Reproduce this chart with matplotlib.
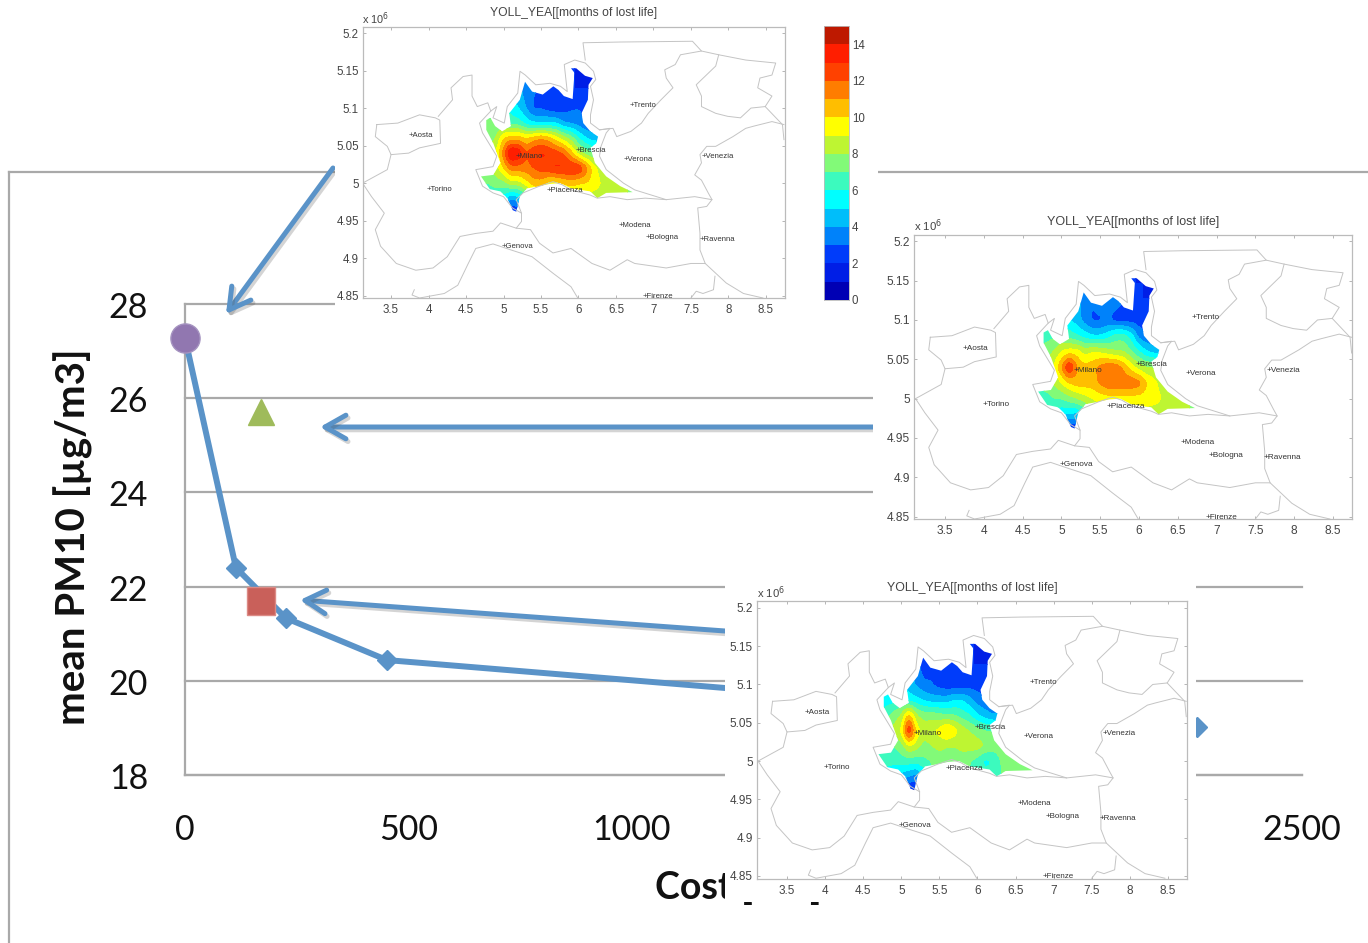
import numpy as np
import matplotlib
matplotlib.use("Agg")
import matplotlib.pyplot as plt
from matplotlib.lines import Line2D
from matplotlib.patches import Polygon, Rectangle
import matplotlib.patheffects as pe

W, H = 1368, 943

# ---------- main chart data ----------
cost = [0, 114, 226, 452, 2265]
pm10 = [27.28, 22.4, 21.33, 20.44, 19.02]
scenario_cost = [0, 170, 170]
scenario_pm10 = [27.28, 25.7, 21.7]
y_ticks = [18, 20, 22, 24, 26, 28]
x_ticks = [0, 500, 1000, 1500, 2000, 2500]

# ---------- map data ----------
grid_x = [4.7, 4.8, 4.9, 5.0, 5.1, 5.2, 5.3, 5.4, 5.5, 5.6, 5.7, 5.8, 5.9, 6.0, 6.1, 6.2, 6.3, 6.4, 6.5, 6.6, 6.7, 6.8]
grid_y = [5.16, 5.14, 5.12, 5.10, 5.08, 5.06, 5.04, 5.02, 5.00, 4.98, 4.96]

yoll_top = [
    [2]*22,
    [5,5,5,5,4,3.5,3,3,3,3,2.5,2.5,2,2,2,2,2,2,2,2,2,2],
    [6,6,6,6,5,4.5,3.5,3,3,2.5,2.5,2.5,2,2,2,2,2,2,2,2,2,2],
    [7,7,7,6.5,5.5,5,4,2.8,2.8,2.5,2.2,2.5,2.8,3,2.5,2.5,2.5,2.5,2.5,2.5,2.5,2.5],
    [7,7,7,7,6.5,6.5,5.5,5,5,5,5,4,3.8,3.5,3,3,3,3,3,3,3,3],
    [7.5,7.5,8,10,10.5,10.5,10,10.5,11,10.5,9.5,8.5,7.5,6,5,4.5,4.5,4.5,4.5,4.5,4.5,4.5],
    [8,8,9,11.5,14.5,14,12,13,13.2,13,12.5,12,10.5,8.5,7.5,7,7,7,7,7,7,7],
    [8,8,8.5,10,11.5,11.5,11.5,12,12.5,12.8,13.2,13.2,13.2,13.2,11.5,9.5,8.5,8.5,8.5,8.5,8.5,8.5],
    [7,7,7.5,7.5,8.5,8.5,9.5,10.5,10.5,9.5,9.5,10,10.5,10,10,9.5,9,8.5,8.3,8,8,8],
    [6,6,6,5.5,4,4.5,6,8,8,8,8,8,8,8.5,8.5,8.5,8.5,8.5,8,8,8,8],
    [4,4,3,2,1.5,2,3,6,6,6,6,6,6,7,7,7,7,7,7,7,7,7],
]
yoll_mid = [
    [2]*22,
    [5,5,5,5,4,3.5,3,3,3,3,3,2.5,2,2,2,2,2,2,2,2,2,2],
    [6,6,6,6,5,4.5,3.5,3,3.5,3.5,3.2,3,2.5,2,2,2,2,2,2,2,2,2],
    [6.5,6.5,6.5,6,5,4.5,3.5,2.8,2.8,3.2,2.5,2.5,2.5,2.5,2.5,2.5,2.5,2.5,2.5,2.5,2.5,2.5],
    [6.5,6.5,6.8,7,6.5,6,5.5,5,5,5.5,6.5,6.5,5.5,3.5,3,3,3,3,3,3,3,3],
    [7.5,7.5,8,9,9.5,9.5,8.5,9,8.8,8.4,8,8,7,6,5,4.5,4.5,4.5,4.5,4.5,4.5,4.5],
    [8,8,9,11,13.5,11,10.3,10.6,11.4,11.8,11.8,10.8,9.5,8.5,8,8,8,8,8,8,8,8],
    [7.5,7.5,8,9,10,10.5,10.5,10.5,11.2,11.8,11.8,11.8,11.8,11.5,10,9.3,8.5,8.5,8.5,8.5,8.5,8.5],
    [6.5,6.5,7,7,7.5,8,8.5,9,9.3,9.5,9.5,9.5,9.5,9.5,9.5,9.3,9,8.5,8.3,8,8,8],
    [6,6,5.5,5,5,4.5,6,8,8,8,8,8,8,8.5,8.5,8.5,8.5,8.5,8,8,8,8],
    [4,4,3,2,1.5,2,3,6,6,6,6,6,6,7,7,7,7,7,7,7,7,7],
]
yoll_low = [
    [2]*22,
    [4,4,4,4,3.5,3,2.5,2.5,2.5,2.5,2.5,2.2,2,2,2,2,2,2,2,2,2,2],
    [5,5,5,5,4.5,3.5,2.5,3,3,3,2.5,2.5,2,2,2,2,2,2,2,2,2,2],
    [5.5,5.5,5.5,5,4.5,3.8,3.2,3,2.5,2.3,2.2,2.2,2.5,2.5,2.5,2.5,2.5,2.5,2.5,2.5,2.5,2.5],
    [5.5,5.5,5.5,6,5.5,5.3,4.8,4.5,4.5,4.5,5,5,4.3,3.5,3,3,3,3,3,3,3,3],
    [6.5,6.5,7.5,8,10.5,8,7.5,7.5,7.3,7,7,6.5,6,5,4.5,4,4,4,4,4,4,4],
    [7.5,7.5,8.3,9,13.5,9.5,8.6,9,9.3,10.5,9.5,8.5,8,7.5,7,7,7,7,7,7,7,7],
    [6.5,6.5,7,7.5,9,8.5,7.5,8,8.3,8,8,8.3,8.5,8.5,8,7.5,7.5,7.5,7.5,7.5,7.5,7.5],
    [6,6.3,6.3,6.5,6.5,6.3,6.8,7,7.5,7.5,7.5,7.5,7,6.5,5.6,6,7,7.5,7.5,7.5,7.5,7.5],
    [5.5,5.5,5,4.5,4,3.5,5,7,7,7,7,7,7,7,6.5,6.5,7,7,7,7,7,7],
    [3,3,2,1.5,1.5,1.5,3,6,6,6,6,6,6,6,6,6,6,6,6,6,6,6],
]

lombardy_area = [(5.90,5.153),(5.97,5.153),(6.087,5.143),(6.19,5.14),(6.134,5.131),(6.125,5.111),(6.04,5.093),
    (6.063,5.08),(6.158,5.069),(6.261,5.062),(6.237,5.053),(6.158,5.047),(6.219,5.027),(6.369,5.009),(6.557,4.996),
    (6.722,4.988),(6.369,4.987),(6.252,4.98),(6.158,4.989),(5.899,4.993),(5.758,5.0),(5.617,4.999),(5.476,4.996),
    (5.311,4.993),(5.217,4.982),(5.17,4.962),(5.123,4.964),(5.052,4.98),(4.958,4.989),(4.817,4.992),(4.70,5.009),
    (4.864,5.011),(4.958,5.027),(4.864,5.053),(4.77,5.071),(4.77,5.084),(4.826,5.087),(4.888,5.076),(4.982,5.069),
    (5.099,5.076),(5.076,5.093),(5.217,5.111),(5.287,5.135),(5.381,5.122),(5.523,5.118),(5.664,5.129),(5.734,5.124),
    (5.805,5.116),(5.922,5.112),(5.946,5.147)]

borders = [
    [(3.31,5.078),(3.29,5.062),(3.45,5.049),(3.50,5.038),(3.735,5.04),(3.88,5.047),(4.16,5.053),(4.15,5.084),(4.09,5.087),(3.88,5.091),(3.59,5.08),(3.31,5.078)],
    [(3.12,5.0),(3.24,4.982),(3.41,4.96),(3.29,4.938),(3.36,4.916),(3.57,4.893),(3.83,4.884),(4.06,4.887),(4.25,4.902),(4.42,4.929),(4.63,4.933),(4.86,4.936),(4.96,4.947),(5.17,4.94),(5.24,4.949),(5.24,4.96),(5.12,4.967),(5.0,4.982),(4.86,4.987),(4.72,4.996),(4.63,5.018),(4.86,5.022),(4.91,5.036),(4.72,5.067),(4.68,5.08),(4.83,5.096),(4.79,5.107),(4.65,5.102),(4.58,5.116),(4.58,5.144),(4.46,5.142),(4.30,5.127),(4.32,5.111),(4.13,5.089)],
    [(3.50,5.038),(3.45,5.018),(3.12,5.0)],
    [(3.81,4.858),(3.78,4.851),(3.88,4.847),(4.21,4.853),(4.39,4.864),(4.53,4.893),(4.63,4.913),(4.86,4.919),(5.10,4.911),(5.38,4.902),(5.66,4.88),(5.90,4.862),(5.99,4.847)],
    [(5.17,4.94),(5.36,4.938),(5.48,4.92),(5.66,4.907),(5.9,4.913),(6.18,4.893),(6.42,4.884),(6.65,4.898),(6.75,4.893),(7.17,4.887),(7.5,4.893),(7.69,4.893),(7.97,4.867),(8.2,4.853),(8.46,4.847)],
    [(7.5,4.847),(7.57,4.856),(7.66,4.853),(7.80,4.858),(7.82,4.876)],
    [(5.24,4.96),(5.17,4.978),(5.26,4.987),(5.48,4.996),(5.66,5.002),(5.78,4.998),(5.9,4.991),(6.16,4.984),(6.25,4.98),(6.42,4.982),(6.65,4.978),(6.89,4.98),(7.17,4.978),(7.55,4.982),(7.78,4.978),(7.71,4.969),(7.59,4.967),(7.62,4.933),(7.62,4.911),(7.69,4.893)],
    [(4.83,5.096),(4.91,5.102),(4.86,5.087),(5.01,5.08),(5.05,5.102),(5.19,5.12),(5.22,5.149),(5.29,5.144),(5.43,5.131),(5.62,5.133),(5.76,5.129),(5.85,5.122),(5.81,5.158),(5.95,5.164),(6.09,5.16),(6.2,5.149),(6.23,5.138),(6.16,5.129),(6.2,5.111),(6.16,5.091),(6.16,5.08),(6.28,5.071),(6.42,5.073),(6.37,5.067),(6.3,5.049),(6.28,5.036),(6.37,5.018),(6.6,5.0),(6.75,4.991),(7.17,4.978)],
    [(6.09,5.164),(6.06,5.187),(6.56,5.188),(7.52,5.189),(7.64,5.176),(7.36,5.171),(7.29,5.158),(7.15,5.151),(7.17,5.14),(7.26,5.127),(7.1,5.111),(6.93,5.093),(6.84,5.08),(6.7,5.069),(6.51,5.062),(6.46,5.073),(6.28,5.071)],
    [(7.64,5.176),(7.87,5.171),(8.23,5.164),(8.63,5.16),(8.58,5.144),(8.42,5.14),(8.39,5.127),(8.58,5.116),(8.49,5.102),(8.72,5.078),(8.74,5.058)],
    [(7.87,5.171),(7.83,5.156),(7.57,5.131),(7.64,5.116),(7.64,5.102),(7.83,5.093),(7.99,5.089),(8.16,5.087),(8.3,5.1),(8.49,5.102)],
    [(8.74,5.078),(8.58,5.082),(8.34,5.076),(8.23,5.073),(8.06,5.062),(7.83,5.049),(7.71,5.049),(7.62,5.038),(7.64,5.027),(7.55,5.011),(7.64,5.004),(7.73,4.987),(7.78,4.978)],
]

city_names = ["Aosta","Torino","Milano","Brescia","Trento","Verona","Venezia","Piacenza","Modena","Bologna","Ravenna","Genova","Firenze"]
city_x = [3.73,3.98,5.16,5.96,6.68,6.60,7.64,5.58,6.53,6.89,7.61,4.97,6.86]
city_y = [5.064,4.992,5.036,5.044,5.103,5.032,5.036,4.990,4.944,4.928,4.925,4.916,4.849]

map_xticks = [3.5,4,4.5,5,5.5,6,6.5,7,7.5,8,8.5]
map_xlabels = ["3.5","4","4.5","5","5.5","6","6.5","7","7.5","8","8.5"]
map_yticks = [4.85,4.9,4.95,5,5.05,5.1,5.15,5.2]
map_ylabels = ["4.85","4.9","4.95","5","5.05","5.1","5.15","5.2"]
map_title = "YOLL_YEA[[months of lost life]"

levels = list(range(16))
band_colors = ["#0000b4","#001ee6","#003cfa","#0082fa","#00befa","#00ffff","#3cfabe","#82fa78",
               "#bef532","#ffff00","#ffbe00","#ff7d00","#ff4100","#ff1e00","#be1900"]
cbar_ticks = [0,2,4,6,8,10,12,14]

GRAY = "#a9a9a9"
BLUE = "#5a93c8"

def axpx(l, t, r, b, **kw):
    return fig.add_axes([l/W, 1-b/H, (r-l)/W, (b-t)/H], **kw)

def refine(values):
    """Resample the read grid finer so the bands have rounded edges."""
    z = np.array(values, float)
    gx = np.array(grid_x)
    gy = np.array(grid_y)[::-1]
    z = z[::-1]
    fx = np.linspace(gx[0], gx[-1], 85)
    fy = np.linspace(gy[0], gy[-1], 61)
    zx = np.array([np.interp(fx, gx, row) for row in z])
    zf = np.array([np.interp(fy, gy, col) for col in zx.T]).T
    k = np.array([1, 2, 1]) / 4
    for _ in range(2):
        zf = np.apply_along_axis(lambda r: np.convolve(np.pad(r, 1, mode="edge"), k, mode="valid"), 1, zf)
        zf = np.apply_along_axis(lambda r: np.convolve(np.pad(r, 1, mode="edge"), k, mode="valid"), 0, zf)
    return fx, fy, zf

fig = plt.figure(figsize=(W/100, H/100), dpi=100, facecolor="white")

# outer frame of the slide chart
for xs, ys in [((9,9),(172,943)), ((9,335),(172,172)), ((878,1368),(172,172))]:
    fig.add_artist(Line2D([x/W for x in xs], [1-y/H for y in ys], color=GRAY, lw=1.6, zorder=0))

# main chart
ax = axpx(185, 304, 1302, 775, zorder=1)
ax.patch.set_alpha(0)
ax.set_xlim(0, 2500)
ax.set_ylim(18, 28)
ax.set_xticks(x_ticks)
ax.set_yticks(y_ticks, [""] * len(y_ticks))
ax.grid(axis="y", color=GRAY, lw=1.6, clip_on=False)
ax.set_axisbelow(True)
for s in ("top", "right"):
    ax.spines[s].set_visible(False)
for s in ("left", "bottom"):
    ax.spines[s].set_color(GRAY)
    ax.spines[s].set_linewidth(1.6)
ax.tick_params(length=0, labelsize=24.5, labelcolor="#111111")
ax.tick_params(axis="x", pad=28)
for t in ax.get_xticklabels():
    t.set_family("Lato")
for v in y_ticks:
    ax.annotate(str(v), (0, v), xytext=(-37, -4), xycoords="data", textcoords="offset pixels",
                ha="right", va="center", family="Lato", size=24.5, color="#111111", annotation_clip=False)
ax.plot(cost, pm10, color=BLUE, lw=4.3, marker="D", ms=10, mec=BLUE, clip_on=False, zorder=3)
ax.plot(scenario_cost[0], scenario_pm10[0], "o", color="#9177b0", ms=21, mec="#a593c0", clip_on=False, zorder=4)
ax.plot(scenario_cost[1], scenario_pm10[1], "^", color="#9fbb5b", ms=19, mec="#9fbb5b", clip_on=False, zorder=4)
ax.plot(scenario_cost[2], scenario_pm10[2], "s", color="#c9605a", ms=20, mec="#dc8a85", clip_on=False, zorder=4)
fig.text(73/W, 1-537/H, "mean PM10 [µg/m3]", rotation=90, family="Lato", weight="bold", size=29,
         ha="center", va="center", color="#111111", zorder=1)
fig.text(655/W, 1-899/H, "Cost [M€]", family="Lato", weight="bold", size=27, ha="left", va="baseline",
         color="#111111", zorder=1)

# arrows
shadow = [pe.SimpleLineShadow(offset=(1.5, -2), alpha=0.25, shadow_color="#555555"), pe.Normal()]
overlay = axpx(0, 0, W, H, zorder=1.5)
overlay.set_xlim(0, W)
overlay.set_ylim(H, 0)
overlay.axis("off")
for (x0, y0), (x1, y1) in [((333, 168), (226, 314)), ((873, 427), (320, 427)), ((725, 631), (300, 600))]:
    overlay.annotate("", xy=(x1, y1), xytext=(x0, y0),
                     arrowprops=dict(arrowstyle="->,head_length=1.5,head_width=0.85", color=BLUE, lw=3.6,
                                     shrinkA=0, shrinkB=0, path_effects=shadow))

# white pictures pasted on top
cover = axpx(0, 0, W, H, zorder=2)
cover.set_xlim(0, W)
cover.set_ylim(H, 0)
cover.axis("off")
for l, t, r, b in [(335, 0, 878, 320), (873, 205, 1368, 545), (725, 578, 1196, 902)]:
    cover.add_patch(Rectangle((l, t), r-l, b-t, fc="white", ec="none"))

def draw_map(box, values, xlim, ylim, fs, cfs, title_y, exp_xy):
    m = axpx(*box, zorder=3)
    m.set_xlim(*xlim)
    m.set_ylim(*ylim)
    fx, fy, zf = refine(values)
    cs = m.contourf(fx, fy, zf, levels=levels, colors=band_colors)
    clip = Polygon(lombardy_area, closed=True, transform=m.transData, fc="none", ec="none")
    m.add_patch(clip)
    cs.set_clip_path(clip)
    for b_ in borders:
        xs, ys = zip(*b_)
        m.plot(xs, ys, color="#c4c4c4", lw=0.7, solid_joinstyle="round")
    for n, x, y in zip(city_names, city_x, city_y):
        m.text(x, y, "+" + n, fontsize=cfs, family="Liberation Sans", color="#333333", va="center", ha="left", clip_on=True)
    m.set_xticks(map_xticks, map_xlabels)
    m.set_yticks(map_yticks, map_ylabels)
    m.tick_params(direction="in", length=2, width=0.6, color="#aaaaaa", top=True, right=True,
                  labelsize=fs, labelcolor="#444444", pad=3)
    m.tick_params(axis="x", pad=4.5)
    for t in m.get_xticklabels() + m.get_yticklabels():
        t.set_family("Liberation Sans")
    for s in m.spines.values():
        s.set_color("#bbbbbb")
        s.set_linewidth(0.9)
    m.set_title(map_title, fontsize=fs+0.4, family="Liberation Sans", color="#444444", pad=title_y)
    l = box[0]
    fig.text((l+exp_xy[0])/W, 1-(box[1]+exp_xy[1])/H, r"x 10$^{6}$", fontsize=fs-0.4, family="Liberation Sans",
             color="#444444", zorder=4)

draw_map((363, 27, 785, 298), yoll_top, (3.126, 8.754), (4.847, 5.208), 8.3, 5.6, 8, (-1, -3))
draw_map((914, 235, 1352, 519), yoll_mid, (3.10, 8.745), (4.847, 5.208), 8.6, 5.9, 7, (0, -4))
draw_map((757, 601, 1187, 879), yoll_low, (3.106, 8.75), (4.846, 5.209), 8.5, 5.8, 7, (0, -3))

# colour bar
cb = axpx(824, 26, 849, 300, zorder=3)
cb.set_xlim(0, 1)
cb.set_ylim(0, 15)
for i, c in enumerate(band_colors):
    cb.bar(0.5, 1, width=1, bottom=levels[i], color=c)
cb.set_xticks([])
cb.yaxis.tick_right()
cb.set_yticks(cbar_ticks)
cb.tick_params(length=0, labelsize=8.3, labelcolor="#444444", pad=2)
for t in cb.get_yticklabels():
    t.set_family("Liberation Sans")
for s in cb.spines.values():
    s.set_color("#bbbbbb")
    s.set_linewidth(0.6)

fig.savefig("out.png", dpi=100)
